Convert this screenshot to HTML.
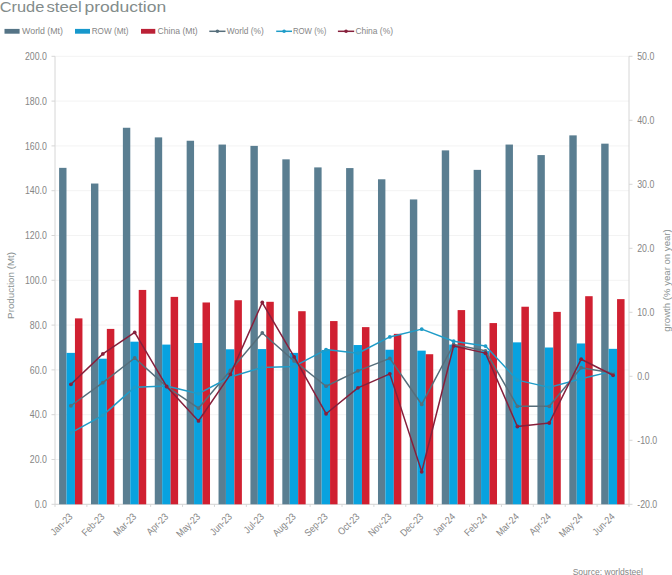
<!DOCTYPE html><html><head><meta charset="utf-8"><style>html,body{margin:0;padding:0;background:#fff;}svg{display:block;}text{font-family:"Liberation Sans",sans-serif;}</style></head><body>
<svg width="672" height="575" viewBox="0 0 672 575">
<rect width="672" height="575" fill="#fff"/>
<text x="-0.3" y="11.9" font-size="14.8" fill="#838c8b" textLength="44.6" lengthAdjust="spacingAndGlyphs">Crude</text>
<text x="46.4" y="11.9" font-size="14.8" fill="#838c8b" textLength="35.4" lengthAdjust="spacingAndGlyphs">steel</text>
<text x="84.4" y="11.9" font-size="14.8" fill="#838c8b" textLength="81.8" lengthAdjust="spacingAndGlyphs">production</text>
<rect x="4.5" y="28.9" width="15.1" height="4.8" fill="#557486"/>
<text x="22.1" y="33.7" font-size="8.4" fill="#868686" textLength="40.9" lengthAdjust="spacingAndGlyphs">World (Mt)</text>
<rect x="75" y="28.9" width="15" height="4.8" fill="#1798cc"/>
<text x="91.7" y="33.7" font-size="8.4" fill="#868686" textLength="36.8" lengthAdjust="spacingAndGlyphs">ROW (Mt)</text>
<rect x="141" y="28.9" width="14.3" height="4.8" fill="#bb2136"/>
<text x="157.5" y="33.7" font-size="8.4" fill="#868686" textLength="40.2" lengthAdjust="spacingAndGlyphs">China (Mt)</text>
<line x1="209.3" y1="31.3" x2="225.5" y2="31.3" stroke="#566e7b" stroke-width="1.5"/><circle cx="217.4" cy="31.3" r="1.8" fill="#566e7b"/>
<text x="226.8" y="33.7" font-size="8.4" fill="#868686" textLength="37.0" lengthAdjust="spacingAndGlyphs">World (%)</text>
<line x1="276.2" y1="31.3" x2="292" y2="31.3" stroke="#1f9cc8" stroke-width="1.5"/><circle cx="284.1" cy="31.3" r="1.8" fill="#1f9cc8"/>
<text x="292.9" y="33.7" font-size="8.4" fill="#868686" textLength="33.4" lengthAdjust="spacingAndGlyphs">ROW (%)</text>
<line x1="337.9" y1="31.3" x2="354.2" y2="31.3" stroke="#86203c" stroke-width="1.5"/><circle cx="346.04999999999995" cy="31.3" r="1.8" fill="#86203c"/>
<text x="355.4" y="33.7" font-size="8.4" fill="#868686" textLength="37.6" lengthAdjust="spacingAndGlyphs">China (%)</text>
<line x1="55.0" y1="504.30" x2="629.0" y2="504.30" stroke="#f3f3f3" stroke-width="1"/>
<line x1="55.0" y1="459.50" x2="629.0" y2="459.50" stroke="#f3f3f3" stroke-width="1"/>
<line x1="55.0" y1="414.70" x2="629.0" y2="414.70" stroke="#f3f3f3" stroke-width="1"/>
<line x1="55.0" y1="369.90" x2="629.0" y2="369.90" stroke="#f3f3f3" stroke-width="1"/>
<line x1="55.0" y1="325.10" x2="629.0" y2="325.10" stroke="#f3f3f3" stroke-width="1"/>
<line x1="55.0" y1="280.30" x2="629.0" y2="280.30" stroke="#f3f3f3" stroke-width="1"/>
<line x1="55.0" y1="235.50" x2="629.0" y2="235.50" stroke="#f3f3f3" stroke-width="1"/>
<line x1="55.0" y1="190.70" x2="629.0" y2="190.70" stroke="#f3f3f3" stroke-width="1"/>
<line x1="55.0" y1="145.90" x2="629.0" y2="145.90" stroke="#f3f3f3" stroke-width="1"/>
<line x1="55.0" y1="101.10" x2="629.0" y2="101.10" stroke="#f3f3f3" stroke-width="1"/>
<line x1="55.0" y1="56.30" x2="629.0" y2="56.30" stroke="#f3f3f3" stroke-width="1"/>
<text transform="translate(46.9,507.90) scale(0.88,1)" font-size="10" fill="#868686" text-anchor="end">0.0</text>
<line x1="51.5" y1="504.30" x2="55.0" y2="504.30" stroke="#d6d6d6" stroke-width="1"/>
<text transform="translate(46.9,463.10) scale(0.88,1)" font-size="10" fill="#868686" text-anchor="end">20.0</text>
<line x1="51.5" y1="459.50" x2="55.0" y2="459.50" stroke="#d6d6d6" stroke-width="1"/>
<text transform="translate(46.9,418.30) scale(0.88,1)" font-size="10" fill="#868686" text-anchor="end">40.0</text>
<line x1="51.5" y1="414.70" x2="55.0" y2="414.70" stroke="#d6d6d6" stroke-width="1"/>
<text transform="translate(46.9,373.50) scale(0.88,1)" font-size="10" fill="#868686" text-anchor="end">60.0</text>
<line x1="51.5" y1="369.90" x2="55.0" y2="369.90" stroke="#d6d6d6" stroke-width="1"/>
<text transform="translate(46.9,328.70) scale(0.88,1)" font-size="10" fill="#868686" text-anchor="end">80.0</text>
<line x1="51.5" y1="325.10" x2="55.0" y2="325.10" stroke="#d6d6d6" stroke-width="1"/>
<text transform="translate(46.9,283.90) scale(0.88,1)" font-size="10" fill="#868686" text-anchor="end">100.0</text>
<line x1="51.5" y1="280.30" x2="55.0" y2="280.30" stroke="#d6d6d6" stroke-width="1"/>
<text transform="translate(46.9,239.10) scale(0.88,1)" font-size="10" fill="#868686" text-anchor="end">120.0</text>
<line x1="51.5" y1="235.50" x2="55.0" y2="235.50" stroke="#d6d6d6" stroke-width="1"/>
<text transform="translate(46.9,194.30) scale(0.88,1)" font-size="10" fill="#868686" text-anchor="end">140.0</text>
<line x1="51.5" y1="190.70" x2="55.0" y2="190.70" stroke="#d6d6d6" stroke-width="1"/>
<text transform="translate(46.9,149.50) scale(0.88,1)" font-size="10" fill="#868686" text-anchor="end">160.0</text>
<line x1="51.5" y1="145.90" x2="55.0" y2="145.90" stroke="#d6d6d6" stroke-width="1"/>
<text transform="translate(46.9,104.70) scale(0.88,1)" font-size="10" fill="#868686" text-anchor="end">180.0</text>
<line x1="51.5" y1="101.10" x2="55.0" y2="101.10" stroke="#d6d6d6" stroke-width="1"/>
<text transform="translate(46.9,59.90) scale(0.88,1)" font-size="10" fill="#868686" text-anchor="end">200.0</text>
<line x1="51.5" y1="56.30" x2="55.0" y2="56.30" stroke="#d6d6d6" stroke-width="1"/>
<text transform="translate(637.2,507.90) scale(0.88,1)" font-size="10" fill="#868686">-20.0</text>
<line x1="629.0" y1="504.30" x2="632.5" y2="504.30" stroke="#d6d6d6" stroke-width="1"/>
<text transform="translate(637.2,443.90) scale(0.88,1)" font-size="10" fill="#868686">-10.0</text>
<line x1="629.0" y1="440.30" x2="632.5" y2="440.30" stroke="#d6d6d6" stroke-width="1"/>
<text transform="translate(637.2,379.90) scale(0.88,1)" font-size="10" fill="#868686">0.0</text>
<line x1="629.0" y1="376.30" x2="632.5" y2="376.30" stroke="#d6d6d6" stroke-width="1"/>
<text transform="translate(637.2,315.90) scale(0.88,1)" font-size="10" fill="#868686">10.0</text>
<line x1="629.0" y1="312.30" x2="632.5" y2="312.30" stroke="#d6d6d6" stroke-width="1"/>
<text transform="translate(637.2,251.90) scale(0.88,1)" font-size="10" fill="#868686">20.0</text>
<line x1="629.0" y1="248.30" x2="632.5" y2="248.30" stroke="#d6d6d6" stroke-width="1"/>
<text transform="translate(637.2,187.90) scale(0.88,1)" font-size="10" fill="#868686">30.0</text>
<line x1="629.0" y1="184.30" x2="632.5" y2="184.30" stroke="#d6d6d6" stroke-width="1"/>
<text transform="translate(637.2,123.90) scale(0.88,1)" font-size="10" fill="#868686">40.0</text>
<line x1="629.0" y1="120.30" x2="632.5" y2="120.30" stroke="#d6d6d6" stroke-width="1"/>
<text transform="translate(637.2,59.90) scale(0.88,1)" font-size="10" fill="#868686">50.0</text>
<line x1="629.0" y1="56.30" x2="632.5" y2="56.30" stroke="#d6d6d6" stroke-width="1"/>
<line x1="55.0" y1="56.3" x2="55.0" y2="504.3" stroke="#d6d6d6" stroke-width="1"/>
<line x1="629.0" y1="56.3" x2="629.0" y2="504.3" stroke="#d6d6d6" stroke-width="1"/>
<line x1="55.0" y1="504.3" x2="629.0" y2="504.3" stroke="#d6d6d6" stroke-width="1"/>
<line x1="55.00" y1="504.3" x2="55.00" y2="506.9" stroke="#d6d6d6" stroke-width="1"/>
<line x1="86.89" y1="504.3" x2="86.89" y2="506.9" stroke="#d6d6d6" stroke-width="1"/>
<line x1="118.78" y1="504.3" x2="118.78" y2="506.9" stroke="#d6d6d6" stroke-width="1"/>
<line x1="150.67" y1="504.3" x2="150.67" y2="506.9" stroke="#d6d6d6" stroke-width="1"/>
<line x1="182.56" y1="504.3" x2="182.56" y2="506.9" stroke="#d6d6d6" stroke-width="1"/>
<line x1="214.44" y1="504.3" x2="214.44" y2="506.9" stroke="#d6d6d6" stroke-width="1"/>
<line x1="246.33" y1="504.3" x2="246.33" y2="506.9" stroke="#d6d6d6" stroke-width="1"/>
<line x1="278.22" y1="504.3" x2="278.22" y2="506.9" stroke="#d6d6d6" stroke-width="1"/>
<line x1="310.11" y1="504.3" x2="310.11" y2="506.9" stroke="#d6d6d6" stroke-width="1"/>
<line x1="342.00" y1="504.3" x2="342.00" y2="506.9" stroke="#d6d6d6" stroke-width="1"/>
<line x1="373.89" y1="504.3" x2="373.89" y2="506.9" stroke="#d6d6d6" stroke-width="1"/>
<line x1="405.78" y1="504.3" x2="405.78" y2="506.9" stroke="#d6d6d6" stroke-width="1"/>
<line x1="437.67" y1="504.3" x2="437.67" y2="506.9" stroke="#d6d6d6" stroke-width="1"/>
<line x1="469.56" y1="504.3" x2="469.56" y2="506.9" stroke="#d6d6d6" stroke-width="1"/>
<line x1="501.44" y1="504.3" x2="501.44" y2="506.9" stroke="#d6d6d6" stroke-width="1"/>
<line x1="533.33" y1="504.3" x2="533.33" y2="506.9" stroke="#d6d6d6" stroke-width="1"/>
<line x1="565.22" y1="504.3" x2="565.22" y2="506.9" stroke="#d6d6d6" stroke-width="1"/>
<line x1="597.11" y1="504.3" x2="597.11" y2="506.9" stroke="#d6d6d6" stroke-width="1"/>
<line x1="629.00" y1="504.3" x2="629.00" y2="506.9" stroke="#d6d6d6" stroke-width="1"/>
<rect x="59.10" y="167.85" width="7.40" height="336.45" fill="#5a7e91"/>
<rect x="66.50" y="352.88" width="8.45" height="151.42" fill="#08a2df"/>
<rect x="74.95" y="318.38" width="7.50" height="185.92" fill="#d02031"/>
<rect x="90.99" y="183.53" width="7.40" height="320.77" fill="#5a7e91"/>
<rect x="98.39" y="358.70" width="8.45" height="145.60" fill="#08a2df"/>
<rect x="106.84" y="328.91" width="7.50" height="175.39" fill="#d02031"/>
<rect x="122.88" y="127.76" width="7.40" height="376.54" fill="#5a7e91"/>
<rect x="130.28" y="341.68" width="8.45" height="162.62" fill="#08a2df"/>
<rect x="138.73" y="289.93" width="7.50" height="214.37" fill="#d02031"/>
<rect x="154.77" y="137.39" width="7.40" height="366.91" fill="#5a7e91"/>
<rect x="162.17" y="344.59" width="8.45" height="159.71" fill="#08a2df"/>
<rect x="170.62" y="296.88" width="7.50" height="207.42" fill="#d02031"/>
<rect x="186.66" y="140.75" width="7.40" height="363.55" fill="#5a7e91"/>
<rect x="194.06" y="343.02" width="8.45" height="161.28" fill="#08a2df"/>
<rect x="202.51" y="302.48" width="7.50" height="201.82" fill="#d02031"/>
<rect x="218.54" y="144.56" width="7.40" height="359.74" fill="#5a7e91"/>
<rect x="225.94" y="349.29" width="8.45" height="155.01" fill="#08a2df"/>
<rect x="234.39" y="300.24" width="7.50" height="204.06" fill="#d02031"/>
<rect x="250.43" y="145.90" width="7.40" height="358.40" fill="#5a7e91"/>
<rect x="257.83" y="349.07" width="8.45" height="155.23" fill="#08a2df"/>
<rect x="266.28" y="301.80" width="7.50" height="202.50" fill="#d02031"/>
<rect x="282.32" y="159.34" width="7.40" height="344.96" fill="#5a7e91"/>
<rect x="289.72" y="352.88" width="8.45" height="151.42" fill="#08a2df"/>
<rect x="298.17" y="311.21" width="7.50" height="193.09" fill="#d02031"/>
<rect x="314.21" y="167.40" width="7.40" height="336.90" fill="#5a7e91"/>
<rect x="321.61" y="349.96" width="8.45" height="154.34" fill="#08a2df"/>
<rect x="330.06" y="321.07" width="7.50" height="183.23" fill="#d02031"/>
<rect x="346.10" y="168.08" width="7.40" height="336.22" fill="#5a7e91"/>
<rect x="353.50" y="345.04" width="8.45" height="159.26" fill="#08a2df"/>
<rect x="361.95" y="327.12" width="7.50" height="177.18" fill="#d02031"/>
<rect x="377.99" y="179.28" width="7.40" height="325.02" fill="#5a7e91"/>
<rect x="385.39" y="349.74" width="8.45" height="154.56" fill="#08a2df"/>
<rect x="393.84" y="333.84" width="7.50" height="170.46" fill="#d02031"/>
<rect x="409.88" y="199.44" width="7.40" height="304.86" fill="#5a7e91"/>
<rect x="417.28" y="350.64" width="8.45" height="153.66" fill="#08a2df"/>
<rect x="425.73" y="354.22" width="7.50" height="150.08" fill="#d02031"/>
<rect x="441.77" y="150.38" width="7.40" height="353.92" fill="#5a7e91"/>
<rect x="449.17" y="344.59" width="8.45" height="159.71" fill="#08a2df"/>
<rect x="457.62" y="310.09" width="7.50" height="194.21" fill="#d02031"/>
<rect x="473.66" y="169.87" width="7.40" height="334.43" fill="#5a7e91"/>
<rect x="481.06" y="351.08" width="8.45" height="153.22" fill="#08a2df"/>
<rect x="489.51" y="323.08" width="7.50" height="181.22" fill="#d02031"/>
<rect x="505.54" y="144.56" width="7.40" height="359.74" fill="#5a7e91"/>
<rect x="512.94" y="342.35" width="8.45" height="161.95" fill="#08a2df"/>
<rect x="521.39" y="306.73" width="7.50" height="197.57" fill="#d02031"/>
<rect x="537.43" y="155.08" width="7.40" height="349.22" fill="#5a7e91"/>
<rect x="544.83" y="347.50" width="8.45" height="156.80" fill="#08a2df"/>
<rect x="553.28" y="311.88" width="7.50" height="192.42" fill="#d02031"/>
<rect x="569.32" y="135.37" width="7.40" height="368.93" fill="#5a7e91"/>
<rect x="576.72" y="343.47" width="8.45" height="160.83" fill="#08a2df"/>
<rect x="585.17" y="296.20" width="7.50" height="208.10" fill="#d02031"/>
<rect x="601.21" y="143.66" width="7.40" height="360.64" fill="#5a7e91"/>
<rect x="608.61" y="348.84" width="8.45" height="155.46" fill="#08a2df"/>
<rect x="617.06" y="299.12" width="7.50" height="205.18" fill="#d02031"/>
<polyline points="70.94,405.74 102.83,382.70 134.72,358.00 166.61,386.60 198.50,408.17 230.39,370.48 262.28,332.97 294.17,360.94 326.06,386.22 357.94,370.86 389.83,358.38 421.72,404.46 453.61,344.49 485.50,350.83 517.39,406.32 549.28,406.32 581.17,367.72 613.06,373.10" fill="none" stroke="#566e7b" stroke-width="1.5" stroke-linejoin="round"/><circle cx="70.94" cy="405.74" r="1.9" fill="#566e7b"/><circle cx="102.83" cy="382.70" r="1.9" fill="#566e7b"/><circle cx="134.72" cy="358.00" r="1.9" fill="#566e7b"/><circle cx="166.61" cy="386.60" r="1.9" fill="#566e7b"/><circle cx="198.50" cy="408.17" r="1.9" fill="#566e7b"/><circle cx="230.39" cy="370.48" r="1.9" fill="#566e7b"/><circle cx="262.28" cy="332.97" r="1.9" fill="#566e7b"/><circle cx="294.17" cy="360.94" r="1.9" fill="#566e7b"/><circle cx="326.06" cy="386.22" r="1.9" fill="#566e7b"/><circle cx="357.94" cy="370.86" r="1.9" fill="#566e7b"/><circle cx="389.83" cy="358.38" r="1.9" fill="#566e7b"/><circle cx="421.72" cy="404.46" r="1.9" fill="#566e7b"/><circle cx="453.61" cy="344.49" r="1.9" fill="#566e7b"/><circle cx="485.50" cy="350.83" r="1.9" fill="#566e7b"/><circle cx="517.39" cy="406.32" r="1.9" fill="#566e7b"/><circle cx="549.28" cy="406.32" r="1.9" fill="#566e7b"/><circle cx="581.17" cy="367.72" r="1.9" fill="#566e7b"/><circle cx="613.06" cy="373.10" r="1.9" fill="#566e7b"/>
<polyline points="70.94,432.81 102.83,415.34 134.72,387.18 166.61,386.03 198.50,393.71 230.39,377.00 262.28,367.40 294.17,366.38 326.06,349.61 357.94,353.26 389.83,336.94 421.72,329.13 453.61,341.23 485.50,346.03 517.39,380.14 549.28,387.37 581.17,378.67 613.06,371.12" fill="none" stroke="#1f9cc8" stroke-width="1.5" stroke-linejoin="round"/><circle cx="70.94" cy="432.81" r="1.9" fill="#1f9cc8"/><circle cx="102.83" cy="415.34" r="1.9" fill="#1f9cc8"/><circle cx="134.72" cy="387.18" r="1.9" fill="#1f9cc8"/><circle cx="166.61" cy="386.03" r="1.9" fill="#1f9cc8"/><circle cx="198.50" cy="393.71" r="1.9" fill="#1f9cc8"/><circle cx="230.39" cy="377.00" r="1.9" fill="#1f9cc8"/><circle cx="262.28" cy="367.40" r="1.9" fill="#1f9cc8"/><circle cx="294.17" cy="366.38" r="1.9" fill="#1f9cc8"/><circle cx="326.06" cy="349.61" r="1.9" fill="#1f9cc8"/><circle cx="357.94" cy="353.26" r="1.9" fill="#1f9cc8"/><circle cx="389.83" cy="336.94" r="1.9" fill="#1f9cc8"/><circle cx="421.72" cy="329.13" r="1.9" fill="#1f9cc8"/><circle cx="453.61" cy="341.23" r="1.9" fill="#1f9cc8"/><circle cx="485.50" cy="346.03" r="1.9" fill="#1f9cc8"/><circle cx="517.39" cy="380.14" r="1.9" fill="#1f9cc8"/><circle cx="549.28" cy="387.37" r="1.9" fill="#1f9cc8"/><circle cx="581.17" cy="378.67" r="1.9" fill="#1f9cc8"/><circle cx="613.06" cy="371.12" r="1.9" fill="#1f9cc8"/>
<polyline points="70.94,384.30 102.83,353.90 134.72,332.40 166.61,386.48 198.50,420.97 230.39,374.38 262.28,302.51 294.17,356.97 326.06,413.74 357.94,387.82 389.83,373.87 421.72,471.79 453.61,346.03 485.50,353.13 517.39,426.48 549.28,423.02 581.17,359.21 613.06,375.28" fill="none" stroke="#86203c" stroke-width="1.5" stroke-linejoin="round"/><circle cx="70.94" cy="384.30" r="1.9" fill="#86203c"/><circle cx="102.83" cy="353.90" r="1.9" fill="#86203c"/><circle cx="134.72" cy="332.40" r="1.9" fill="#86203c"/><circle cx="166.61" cy="386.48" r="1.9" fill="#86203c"/><circle cx="198.50" cy="420.97" r="1.9" fill="#86203c"/><circle cx="230.39" cy="374.38" r="1.9" fill="#86203c"/><circle cx="262.28" cy="302.51" r="1.9" fill="#86203c"/><circle cx="294.17" cy="356.97" r="1.9" fill="#86203c"/><circle cx="326.06" cy="413.74" r="1.9" fill="#86203c"/><circle cx="357.94" cy="387.82" r="1.9" fill="#86203c"/><circle cx="389.83" cy="373.87" r="1.9" fill="#86203c"/><circle cx="421.72" cy="471.79" r="1.9" fill="#86203c"/><circle cx="453.61" cy="346.03" r="1.9" fill="#86203c"/><circle cx="485.50" cy="353.13" r="1.9" fill="#86203c"/><circle cx="517.39" cy="426.48" r="1.9" fill="#86203c"/><circle cx="549.28" cy="423.02" r="1.9" fill="#86203c"/><circle cx="581.17" cy="359.21" r="1.9" fill="#86203c"/><circle cx="613.06" cy="375.28" r="1.9" fill="#86203c"/>
<text transform="translate(73.24,517.30) rotate(-45) scale(0.87,1)" font-size="10" fill="#868686" text-anchor="end">Jan-23</text>
<text transform="translate(105.13,517.30) rotate(-45) scale(0.87,1)" font-size="10" fill="#868686" text-anchor="end">Feb-23</text>
<text transform="translate(137.02,517.30) rotate(-45) scale(0.87,1)" font-size="10" fill="#868686" text-anchor="end">Mar-23</text>
<text transform="translate(168.91,517.30) rotate(-45) scale(0.87,1)" font-size="10" fill="#868686" text-anchor="end">Apr-23</text>
<text transform="translate(200.80,517.30) rotate(-45) scale(0.87,1)" font-size="10" fill="#868686" text-anchor="end">May-23</text>
<text transform="translate(232.69,517.30) rotate(-45) scale(0.87,1)" font-size="10" fill="#868686" text-anchor="end">Jun-23</text>
<text transform="translate(264.58,517.30) rotate(-45) scale(0.87,1)" font-size="10" fill="#868686" text-anchor="end">Jul-23</text>
<text transform="translate(296.47,517.30) rotate(-45) scale(0.87,1)" font-size="10" fill="#868686" text-anchor="end">Aug-23</text>
<text transform="translate(328.36,517.30) rotate(-45) scale(0.87,1)" font-size="10" fill="#868686" text-anchor="end">Sep-23</text>
<text transform="translate(360.24,517.30) rotate(-45) scale(0.87,1)" font-size="10" fill="#868686" text-anchor="end">Oct-23</text>
<text transform="translate(392.13,517.30) rotate(-45) scale(0.87,1)" font-size="10" fill="#868686" text-anchor="end">Nov-23</text>
<text transform="translate(424.02,517.30) rotate(-45) scale(0.87,1)" font-size="10" fill="#868686" text-anchor="end">Dec-23</text>
<text transform="translate(455.91,517.30) rotate(-45) scale(0.87,1)" font-size="10" fill="#868686" text-anchor="end">Jan-24</text>
<text transform="translate(487.80,517.30) rotate(-45) scale(0.87,1)" font-size="10" fill="#868686" text-anchor="end">Feb-24</text>
<text transform="translate(519.69,517.30) rotate(-45) scale(0.87,1)" font-size="10" fill="#868686" text-anchor="end">Mar-24</text>
<text transform="translate(551.58,517.30) rotate(-45) scale(0.87,1)" font-size="10" fill="#868686" text-anchor="end">Apr-24</text>
<text transform="translate(583.47,517.30) rotate(-45) scale(0.87,1)" font-size="10" fill="#868686" text-anchor="end">May-24</text>
<text transform="translate(615.36,517.30) rotate(-45) scale(0.87,1)" font-size="10" fill="#868686" text-anchor="end">Jun-24</text>
<text transform="translate(14.4,285.4) rotate(-90)" font-size="9.8" fill="#8a9292" text-anchor="middle" textLength="67" lengthAdjust="spacingAndGlyphs">Production (Mt)</text>
<text transform="translate(670,280.5) rotate(-90)" font-size="9.6" fill="#8a9292" text-anchor="middle">growth (% year on year)</text>
<text transform="translate(642.9,575) scale(0.95,1)" font-size="9" fill="#868686" text-anchor="end">Source: worldsteel</text>
</svg></body></html>
